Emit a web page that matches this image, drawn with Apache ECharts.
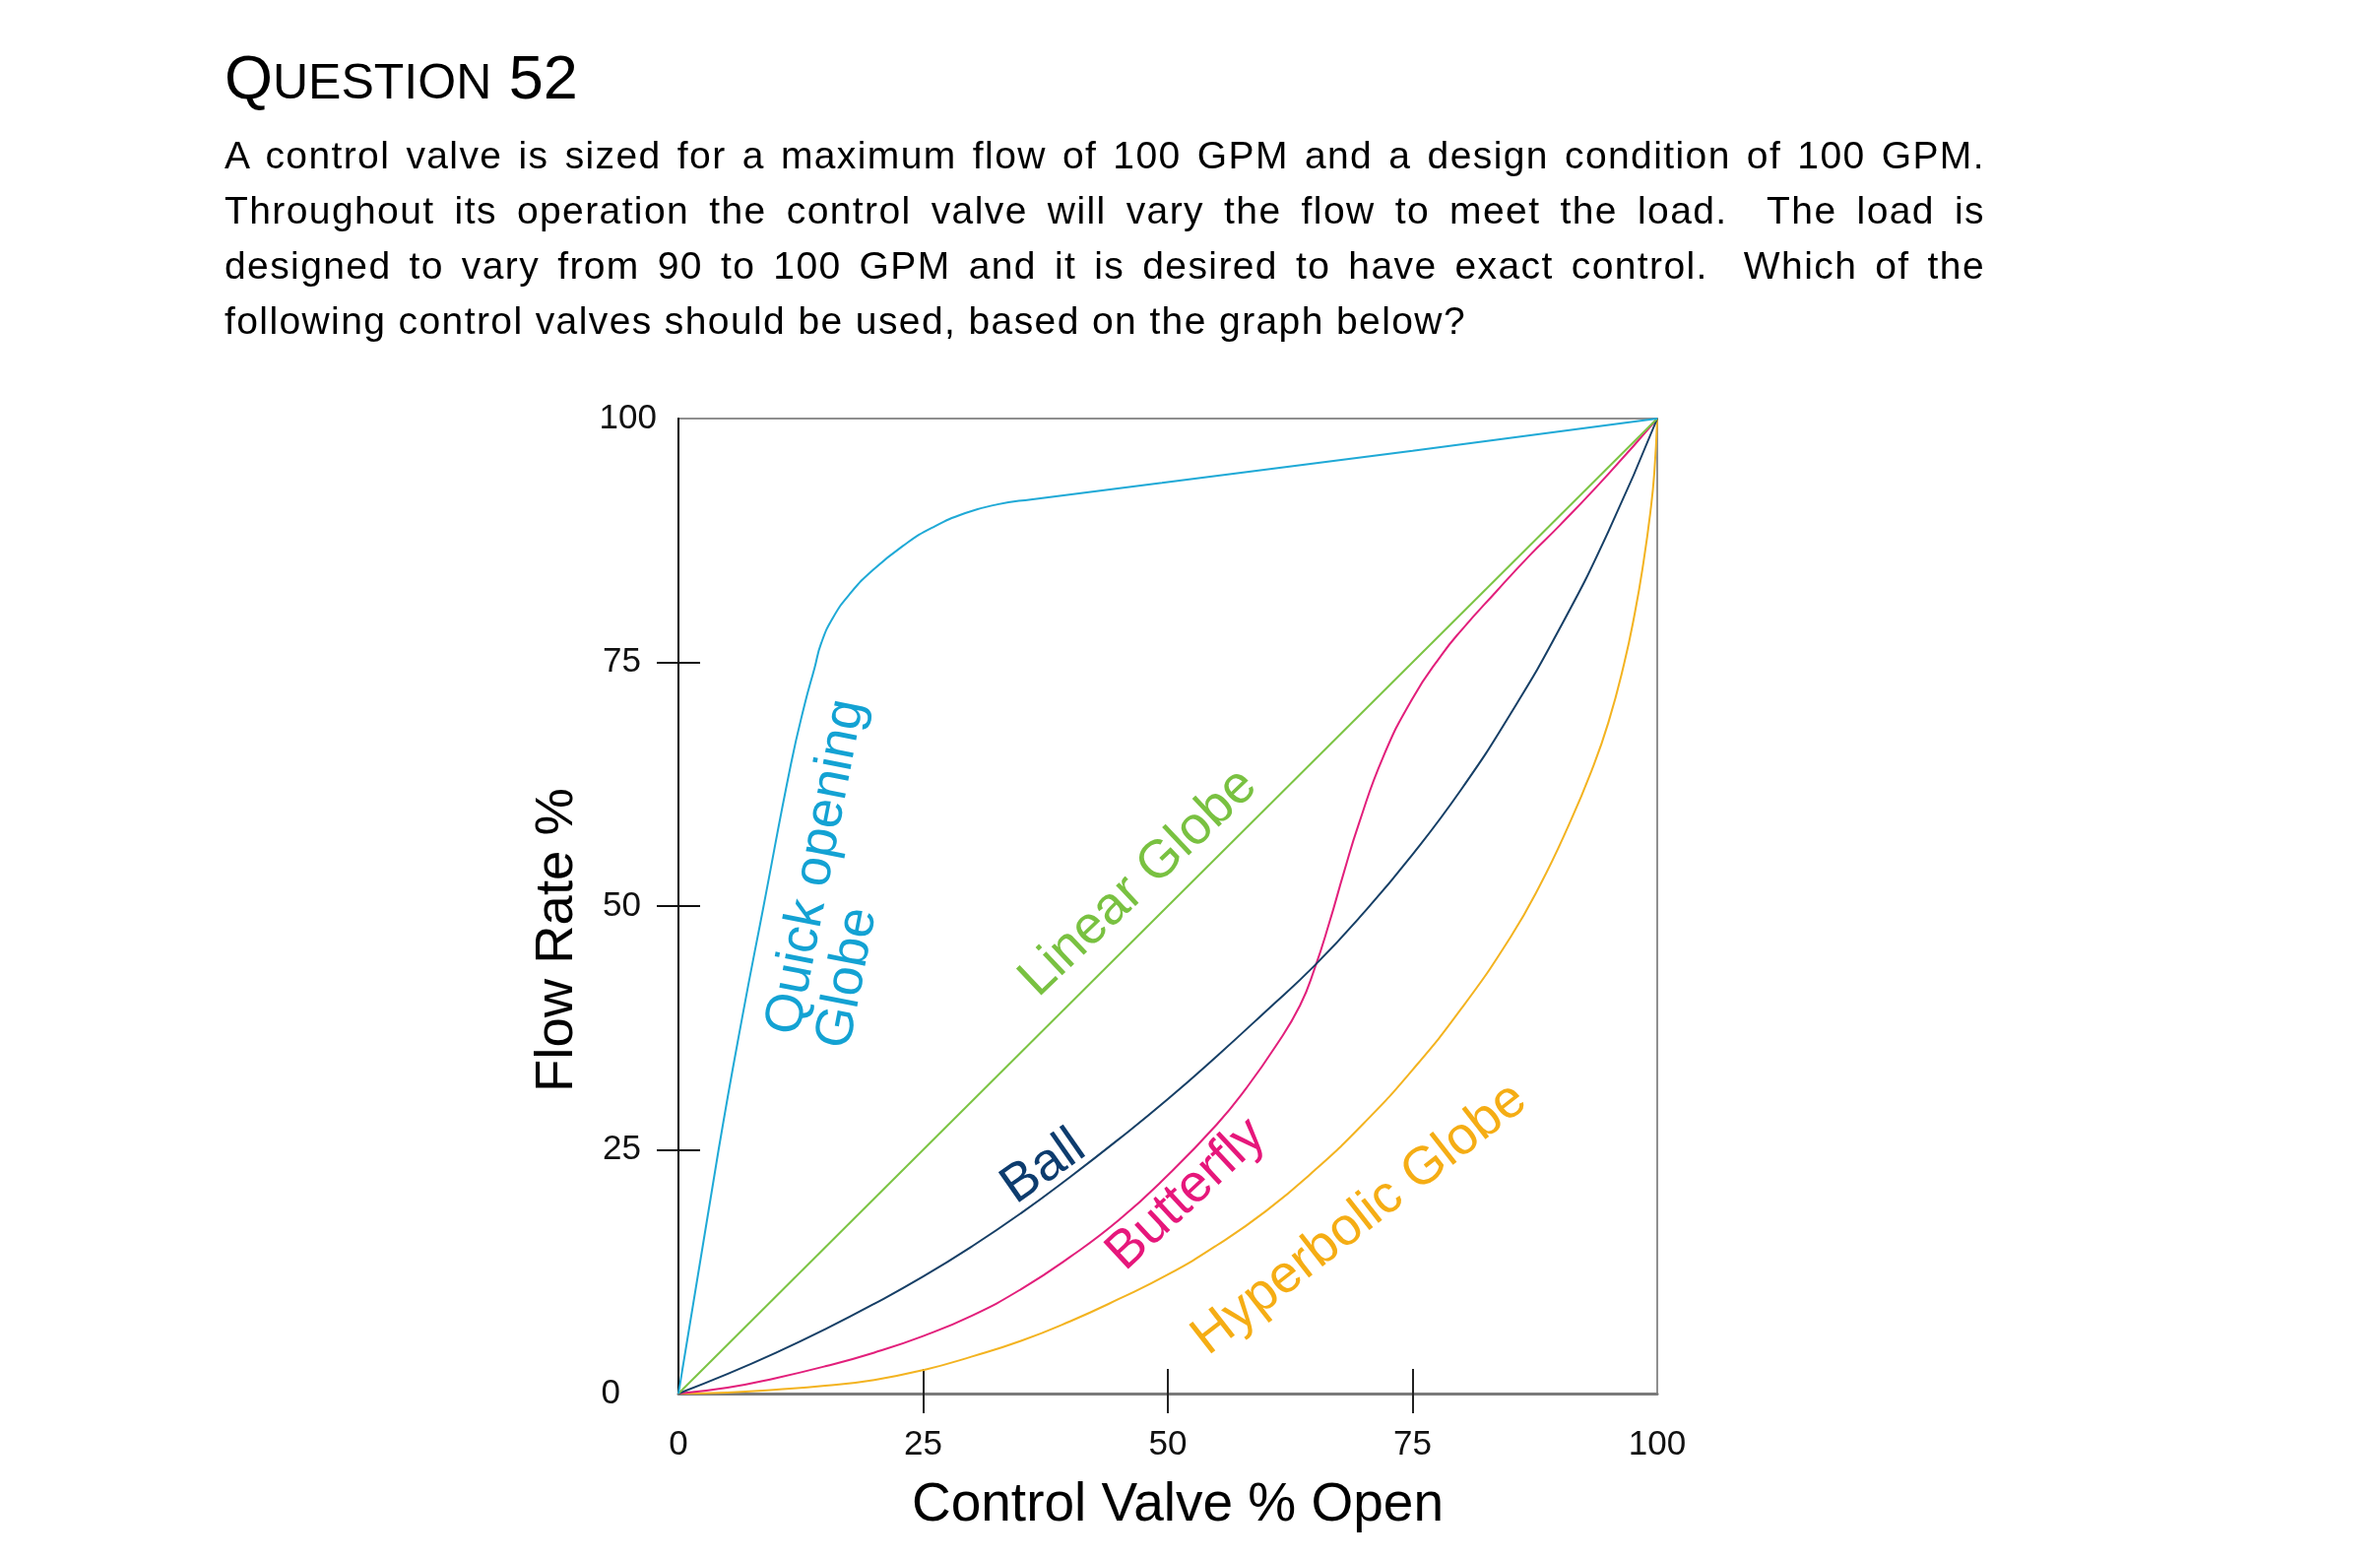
<!DOCTYPE html>
<html>
<head>
<meta charset="utf-8">
<script src="https://cdn.jsdelivr.net/npm/echarts@6/dist/echarts.min.js"></script>
<style>
html,body{margin:0;padding:0;background:#fff;}
#wrap{position:relative;width:2417px;height:1583px;overflow:hidden;background:#fff;}
#chart{position:absolute;left:0;top:0;width:2417px;height:1583px;}
.txt{position:absolute;font-family:"Liberation Sans",Arial,sans-serif;color:#000;white-space:nowrap;}
#title{left:228px;top:47px;font-size:63px;line-height:63px;}
#title .sc{font-size:50px;}
.pl{left:228px;width:1788px;font-size:39px;line-height:56px;letter-spacing:1.4px;}
.j{text-align:justify;text-align-last:justify;white-space:normal;}
</style>
</head>
<body>
<div id="wrap">
  <div id="chart"></div>
  <div class="txt" id="title">Q<span class="sc">UESTION</span> 52</div>
  <div class="txt pl j" style="top:130px">A control valve is sized for a maximum flow of 100 GPM and a design condition of 100 GPM.</div>
  <div class="txt pl j" style="top:186px">Throughout its operation the control valve will vary the flow to meet the load.&nbsp; The load is</div>
  <div class="txt pl j" style="top:242px">designed to vary from 90 to 100 GPM and it is desired to have exact control.&nbsp; Which of the</div>
  <div class="txt pl" style="top:298px">following control valves should be used, based on the graph below?</div>
</div>
<script>
// ---------------- data ----------------
const xAxisTitle = 'Control Valve % Open';
const yAxisTitle = 'Flow Rate %';
const tickValues = [0, 25, 50, 75, 100];
const crossTicks = [25, 50, 75];

const quickOpeningGlobe = [[0,0],[4.1,25],[6.5,38.5],[8.7,50],[11.5,64.6],[12.9,70.7],[13.9,74.4],[14.6,77],[15.8,79.6],[17.5,82],[19.9,84.5],[23.3,87.2],[25.9,88.8],[29.3,90.3],[32.6,91.2],[36,91.7],[49.4,93.4],[75,96.7],[100,100]];
const linearGlobe = [[0,0],[100,100]];
const ball = [[0,0],[5,2.0],[10,4.2],[15,6.6],[20,9.2],[25,12.0],[30,15.1],[35,18.5],[40,22.2],[45,26.1],[50,30.2],[55,34.6],[60,39.2],[65,43.9],[70,49.3],[75,55.3],[80,62],[85,69.7],[90,78.4],[95,88.4],[100,100]];
const butterfly = [[0,0],[5,0.6],[10,1.6],[15,2.8],[20,4.2],[25,5.9],[30,8.0],[35,10.7],[40,14.0],[45,17.8],[50,22.4],[55,27.6],[58,31.3],[61,35.6],[63.5,39.8],[65,43.6],[66.5,48.3],[68,53.5],[69.5,58.4],[72,65.3],[75,71.3],[78,75.8],[80,78.3],[83.5,82.2],[87,86],[90,89],[95,94.3],[100,100]];
const hyperbolicGlobe = [[0,0],[5,0.1],[10,0.4],[15,0.8],[20,1.4],[25,2.4],[30,3.8],[35,5.4],[40,7.4],[45,9.7],[50,12.2],[55,15.2],[60,18.7],[65,22.9],[70,27.7],[75,33.2],[80,39.5],[85,46.8],[88,52.1],[91,58.4],[93.3,63.9],[95,68.8],[96.6,74.8],[97.7,80],[98.6,85.3],[99.3,90.4],[99.7,94.4],[100,100]];

const curveLabels = [
  {text:'Quick opening', at:[14.1,54.0], angle:79, color:'#13a2d3'},
  {text:'Globe', at:[17.3,42.6], angle:79, color:'#13a2d3'},
  {text:'Linear Globe', at:[47.0,52.4], angle:43.5, color:'#79c141'},
  {text:'Ball', at:[37.3,23.2], angle:35, color:'#0d3c6e'},
  {text:'Butterfly', at:[51.9,20.4], angle:43, color:'#e6177b'},
  {text:'Hyperbolic Globe', at:[69.6,17.9], angle:38, color:'#f5ad14'}
];
// --------------------------------------

const FONT = '"Liberation Sans", Arial, sans-serif';
const chart = echarts.init(document.getElementById('chart'), null, {renderer:'canvas'});

function lineSeries(name, data, color, smooth){
  return {
    name, type:'line', data, xAxisIndex:0, yAxisIndex:0,
    showSymbol:false, symbol:'none', smooth: smooth,
    lineStyle:{color, width:2}, silent:true, clip:true
  };
}

const option = {
  animation:false,
  backgroundColor:'transparent',
  grid:{left:689, top:425, width:994, height:990, show:true, borderColor:'#8f8f8f', borderWidth:2, backgroundColor:'transparent', containLabel:false},
  xAxis:[{
    type:'value', min:0, max:100, interval:25, position:'bottom',
    axisLine:{show:true, lineStyle:{color:'#7a7a7a', width:3}},
    axisTick:{show:true, customValues:crossTicks, length:20, lineStyle:{color:'#222', width:2}},
    axisLabel:{fontSize:35, color:'#111', margin:35, fontFamily:FONT, customValues:tickValues},
    splitLine:{show:false},
    name:xAxisTitle, nameLocation:'middle', nameGap:86,
    nameTextStyle:{fontSize:55, color:'#000', fontFamily:FONT, padding:[0,0,0,20]}
  },{
    type:'value', min:0, max:100, interval:25, position:'bottom',
    axisLine:{show:false}, axisLabel:{show:false}, splitLine:{show:false},
    axisTick:{show:true, inside:true, customValues:crossTicks, length:25, lineStyle:{color:'#222', width:2}}
  }],
  yAxis:[{
    type:'value', min:0, max:100, interval:25, position:'left',
    axisLine:{show:true, lineStyle:{color:'#000', width:2}},
    axisTick:{show:true, customValues:crossTicks, length:22, lineStyle:{color:'#111', width:2}},
    axisLabel:{
      fontSize:35, color:'#111', margin:22, fontFamily:FONT, customValues:tickValues,
      formatter:function(v){ if(v===100) return '{t|100}'; if(v===0) return '{z|0}'; return '{m|'+v+'}'; },
      rich:{
        t:{fontSize:35, fontFamily:FONT, color:'#111', padding:[0,0,0,0]},
        m:{fontSize:35, fontFamily:FONT, color:'#111', padding:[0,16,0,0]},
        z:{fontSize:35, fontFamily:FONT, color:'#111', padding:[0,37,0,0]}
      }
    },
    splitLine:{show:false},
    name:yAxisTitle, nameLocation:'middle', nameGap:96,
    nameTextStyle:{fontSize:54.5, color:'#000', fontFamily:FONT, padding:[0,69,0,0]}
  },{
    type:'value', min:0, max:100, interval:25, position:'left',
    axisLine:{show:false}, axisLabel:{show:false}, splitLine:{show:false},
    axisTick:{show:true, inside:true, customValues:crossTicks, length:22, lineStyle:{color:'#111', width:2}}
  }],
  series:[
    lineSeries('Hyperbolic Globe', hyperbolicGlobe, '#f3b320', 0.5),
    lineSeries('Butterfly', butterfly, '#e21f7b', 0.5),
    lineSeries('Ball', ball, '#163f66', 0.5),
    lineSeries('Linear Globe', linearGlobe, '#7cc444', false),
    lineSeries('Quick opening Globe', quickOpeningGlobe, '#1fa9d6', 0.5)
  ]
};
chart.setOption(option);

const graphics = curveLabels.map(function(l){
  const p = chart.convertToPixel({xAxisIndex:0, yAxisIndex:0}, l.at);
  return {
    type:'text', x:p[0], y:p[1], rotation:l.angle*Math.PI/180, silent:true, z:100,
    style:{text:l.text, fill:l.color, fontSize:54, fontFamily:FONT, align:'center', verticalAlign:'middle'}
  };
});
chart.setOption({graphic:graphics});
</script>
</body>
</html>
